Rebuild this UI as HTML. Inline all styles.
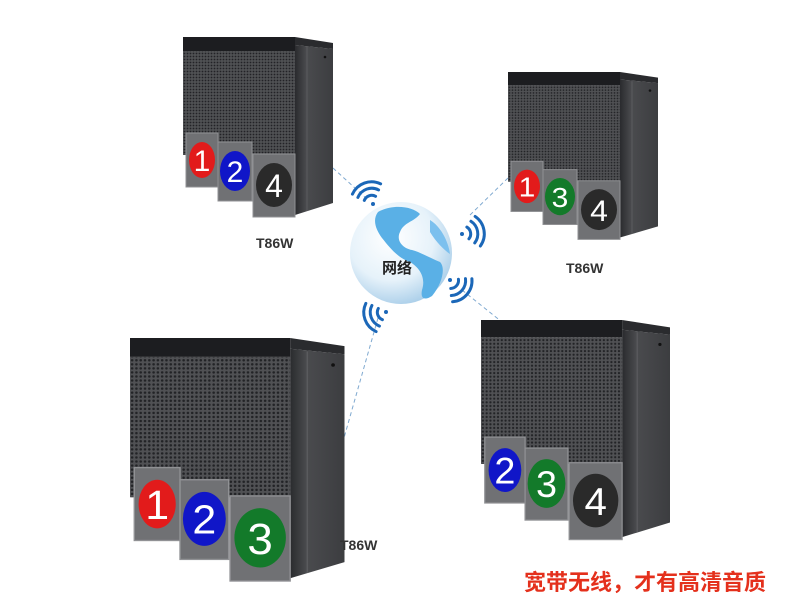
<!DOCTYPE html>
<html><head><meta charset="utf-8"><style>
html,body{margin:0;padding:0;background:#fff;}
svg{display:block}
</style></head><body>
<svg width="800" height="600" viewBox="0 0 800 600" xmlns="http://www.w3.org/2000/svg">
<defs>
<pattern id="dots" width="3" height="3" patternUnits="userSpaceOnUse">
<rect width="3" height="3" fill="#505154"/><circle cx="1.5" cy="1.5" r="0.9" fill="#222326"/>
</pattern>
<radialGradient id="gl" cx="0.4" cy="0.35" r="0.7">
<stop offset="0" stop-color="#ffffff"/><stop offset="0.6" stop-color="#e6f2fa"/><stop offset="1" stop-color="#a6cce8"/>
</radialGradient>
<linearGradient id="side" x1="0" x2="1"><stop offset="0" stop-color="#2a2b2e"/><stop offset="0.3" stop-color="#4a4b4e"/><stop offset="1" stop-color="#3c3d40"/></linearGradient>
<g id="dev">
<polygon points="112,8 150,12 150,166 112,178" fill="url(#side)"/>
<line x1="124" y1="10" x2="124" y2="174" stroke="#5a5b5e" stroke-width="1"/>
<circle cx="142" cy="20" r="1.3" fill="#111"/>
<rect x="0" y="0" width="112" height="14" fill="#1c1d20"/>
<polygon points="112,0 150,6 150,12 112,8" fill="#2a2b2e"/>
<rect x="0" y="14" width="112" height="104" fill="url(#dots)"/>
<rect x="3" y="96" width="32" height="54" fill="#707174" stroke="#909194"/>
<rect x="35" y="105" width="34" height="59" fill="#707174" stroke="#909194"/>
<rect x="70" y="117" width="42" height="63" fill="#707174" stroke="#909194"/>
</g>
</defs>

<g stroke="#7fa9d0" stroke-width="1" stroke-dasharray="4,3" fill="none">
<line x1="333" y1="168" x2="368" y2="200"/>
<line x1="508" y1="178" x2="470" y2="215"/>
<line x1="462" y1="290" x2="502" y2="322"/>
<line x1="378" y1="318" x2="340" y2="452"/>
</g>

<g font-family="Liberation Sans,sans-serif" fill="#fff" text-anchor="middle">
<g transform="translate(183,37)"><use href="#dev"/>
<ellipse cx="19" cy="123" rx="13" ry="18" fill="#e21b1b"/><text x="19" y="134" font-size="30">1</text>
<ellipse cx="52" cy="134" rx="15" ry="20" fill="#1016c8"/><text x="52" y="145" font-size="30">2</text>
<ellipse cx="91" cy="148" rx="18" ry="22" fill="#2a2a2a"/><text x="91" y="160" font-size="32">4</text>
</g>
<g transform="translate(508,72) scale(1,0.93)"><use href="#dev"/>
<ellipse cx="19" cy="123" rx="13" ry="18" fill="#e21b1b"/><text x="19" y="134" font-size="30">1</text>
<ellipse cx="52" cy="134" rx="15" ry="20" fill="#137a2a"/><text x="52" y="145" font-size="30">3</text>
<ellipse cx="91" cy="148" rx="18" ry="22" fill="#2a2a2a"/><text x="91" y="160" font-size="32">4</text>
</g>
<g transform="translate(130,338) scale(1.43,1.35)"><use href="#dev"/>
<ellipse cx="19" cy="123" rx="13" ry="18" fill="#e21b1b"/><text x="19" y="134" font-size="30">1</text>
<ellipse cx="52" cy="134" rx="15" ry="20" fill="#1016c8"/><text x="52" y="145" font-size="30">2</text>
<ellipse cx="91" cy="148" rx="18" ry="22" fill="#137a2a"/><text x="91" y="160" font-size="32">3</text>
</g>
<g transform="translate(481,320) scale(1.26,1.22)"><use href="#dev"/>
<ellipse cx="19" cy="123" rx="13" ry="18" fill="#1016c8"/><text x="19" y="134" font-size="30">2</text>
<ellipse cx="52" cy="134" rx="15" ry="20" fill="#137a2a"/><text x="52" y="145" font-size="30">3</text>
<ellipse cx="91" cy="148" rx="18" ry="22" fill="#2a2a2a"/><text x="91" y="160" font-size="32">4</text>
</g>
</g>

<circle cx="401" cy="253" r="51" fill="url(#gl)"/>
<path d="M378,212 C392,204 412,206 420,214 C414,222 404,222 400,232 C396,240 402,248 412,250 C420,252 430,258 440,262 C446,268 442,284 432,296 C426,300 420,300 422,290 C426,278 420,268 410,262 C398,258 390,248 382,238 C376,230 372,220 378,212 Z" fill="#5ab0e6"/>
<path d="M430,220 C440,226 448,240 450,254 C444,250 436,242 430,232 Z" fill="#7cc0ee"/>
<text x="382" y="273" font-family="Liberation Sans,'Noto Sans CJK SC',sans-serif" font-size="15" font-weight="bold" fill="#222">网络</text>

<g fill="none" stroke="#1b67b8" stroke-width="3" stroke-linecap="round">
<g transform="translate(372,204) rotate(-20)"><path d="M-6,-6 A8,8 0 0 1 6,-6"/><path d="M-11,-11 A15,15 0 0 1 11,-11"/><path d="M-15,-16 A21,21 0 0 1 15,-16"/></g>
<g transform="translate(462,234) rotate(80)"><path d="M-6,-6 A8,8 0 0 1 6,-6"/><path d="M-11,-11 A15,15 0 0 1 11,-11"/><path d="M-15,-16 A21,21 0 0 1 15,-16"/></g>
<g transform="translate(450,280) rotate(130)"><path d="M-6,-6 A8,8 0 0 1 6,-6"/><path d="M-11,-11 A15,15 0 0 1 11,-11"/><path d="M-15,-16 A21,21 0 0 1 15,-16"/></g>
<g transform="translate(386,312) rotate(-110)"><path d="M-6,-6 A8,8 0 0 1 6,-6"/><path d="M-11,-11 A15,15 0 0 1 11,-11"/><path d="M-15,-16 A21,21 0 0 1 15,-16"/></g>
</g>
<g fill="#1b67b8"><circle cx="373" cy="204" r="2"/><circle cx="462" cy="234" r="2"/><circle cx="450" cy="280" r="2"/><circle cx="386" cy="312" r="2"/></g>

<g font-family="Liberation Sans,sans-serif" font-size="14" font-weight="bold" fill="#333">
<text x="256" y="248">T86W</text>
<text x="566" y="273">T86W</text>
<text x="340" y="550">T86W</text>
</g>
<text x="524" y="590" font-family="Liberation Sans,'Noto Sans CJK SC',sans-serif" font-size="22" font-weight="bold" fill="#e4301c">宽带无线，才有高清音质</text>
</svg>
</body></html>
